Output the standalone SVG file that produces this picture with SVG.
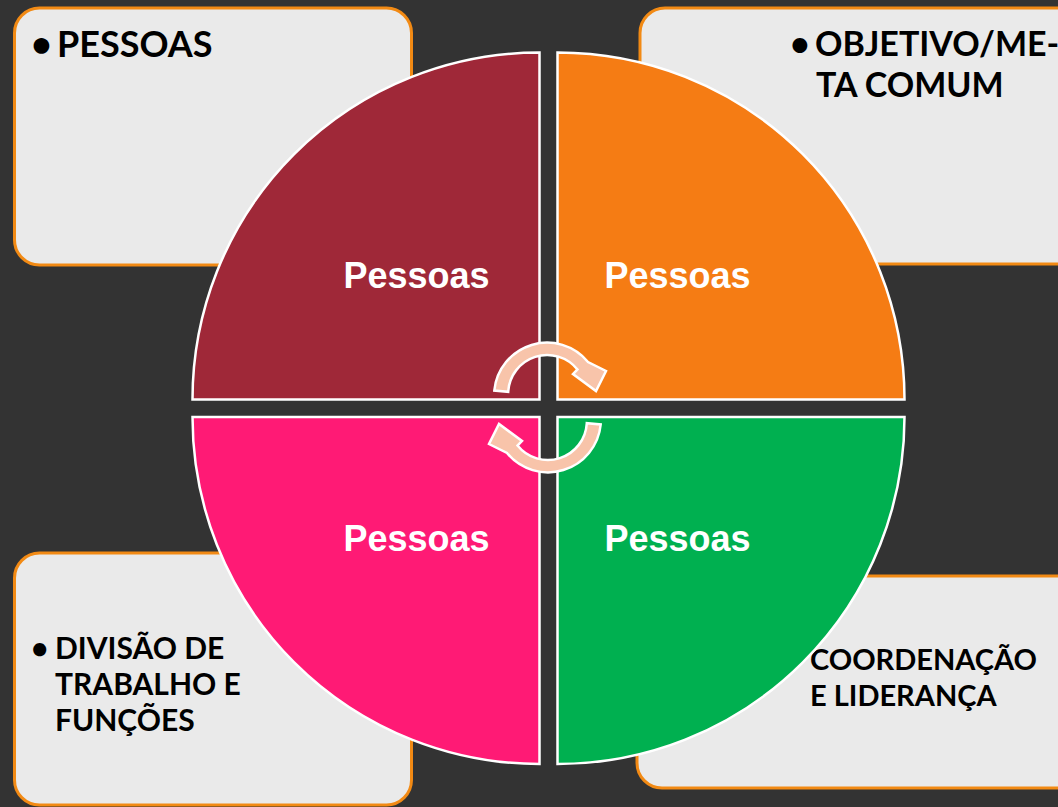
<svg xmlns="http://www.w3.org/2000/svg" width="1058" height="807" viewBox="0 0 1058 807">
<style>
.box{fill:#EAEAEA;stroke:#F28A14;stroke-width:3}
.btxt{font-family:Lato,"Open Sans","Liberation Sans",sans-serif;font-weight:700;fill:#000}
.q{stroke:#FFFFFF;stroke-width:2.5}
.lbl{font-family:"Liberation Sans",Arial,sans-serif;font-weight:700;font-size:36px;fill:#FFFFFF;text-anchor:middle}
.arr{fill:#F8C4AA;stroke:#FFFFFF;stroke-width:2.5;stroke-linejoin:miter}
</style>
<defs>
<path id="arrowShape" d="M 494.3,390.5 A 53 53 0 0 1 588,362 L 606,371 L 596,391 L 573,374 L 577.5,369.5 A 39 39 0 0 0 508.2,391.8 Z"/>
</defs>
<rect x="0" y="0" width="1058" height="807" fill="#333333"/>

<g id="box-pessoas">
<rect class="box" x="14.5" y="8" width="397" height="257" rx="25"/>
<text class="btxt" font-size="36" y="57"><tspan x="31">•</tspan><tspan x="57">PESSOAS</tspan></text>
</g>
<g id="box-objetivo">
<rect class="box" x="640" y="8" width="460" height="256" rx="25"/>
<text class="btxt" font-size="34" y="56"><tspan x="790">•</tspan><tspan x="815">OBJETIVO/ME-</tspan></text>
<text class="btxt" font-size="34" x="816" y="97">TA COMUM</text>
</g>
<g id="box-divisao">
<rect class="box" x="14.5" y="553" width="397" height="252" rx="25"/>
<text class="btxt" font-size="30" y="659"><tspan x="31">•</tspan><tspan x="55">DIVISÃO DE</tspan></text>
<text class="btxt" font-size="30" x="55" y="695">TRABALHO E</text>
<text class="btxt" font-size="30" x="55" y="731">FUNÇÕES</text>
</g>
<g id="box-coordenacao">
<rect class="box" x="637" y="576" width="460" height="212" rx="25"/>
<text class="btxt" font-size="29" x="810" y="670">COORDENAÇÃO</text>
<text class="btxt" font-size="29" x="810" y="706">E LIDERANÇA</text>
</g>

<g id="quad-tl">
<path class="q" fill="#9F2838" d="M 539.5,399.5 L 192.5,399.5 A 347 347 0 0 1 539.5,52.5 Z"/>
<text class="lbl" x="416.5" y="288">Pessoas</text>
</g>
<g id="quad-tr">
<path class="q" fill="#F57C14" d="M 557.5,399.5 L 557.5,52.5 A 347 347 0 0 1 904.5,399.5 Z"/>
<text class="lbl" x="677.5" y="288">Pessoas</text>
</g>
<g id="quad-bl">
<path class="q" fill="#FF1A75" d="M 539.5,417 L 539.5,764 A 347 347 0 0 1 192.5,417 Z"/>
<text class="lbl" x="416.5" y="551">Pessoas</text>
</g>
<g id="quad-br">
<path class="q" fill="#00B050" d="M 557.5,417 L 904.5,417 A 347 347 0 0 1 557.5,764 Z"/>
<text class="lbl" x="677.5" y="551">Pessoas</text>
</g>

<g id="connectors">
<use href="#arrowShape" class="arr"/>
<use href="#arrowShape" class="arr" transform="translate(1095,815) rotate(180)"/>
</g>
</svg>
